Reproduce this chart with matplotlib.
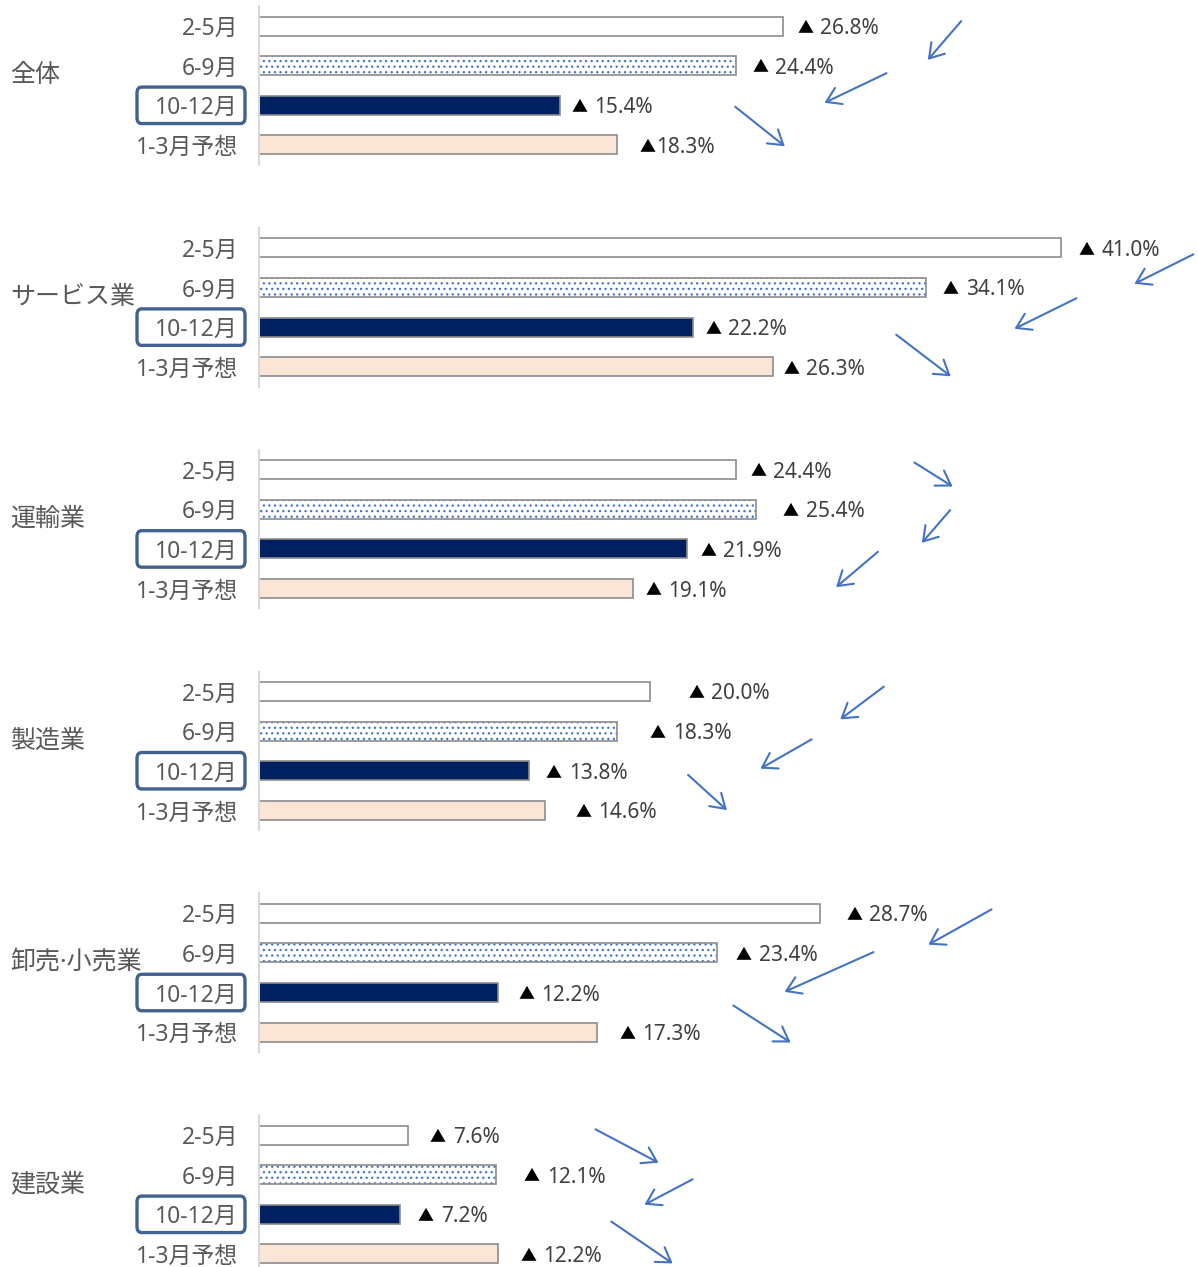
import numpy as np
import matplotlib.pyplot as plt
import matplotlib.patches as mpatches
import matplotlib.transforms as mtransforms

plt.rcParams['font.family'] = ['Noto Sans', 'Noto Sans CJK JP', 'DejaVu Sans']
plt.rcParams['hatch.linewidth'] = 0.9

# data: decline (▲) in %, per industry
industries = ['全体', 'サービス業', '運輸業', '製造業', '卸売·小売業', '建設業']
periods = ['2-5月', '6-9月', '10-12月', '1-3月予想']
feb_may = [26.8, 41.0, 24.4, 20.0, 28.7, 7.6]
jun_sep = [24.4, 34.1, 25.4, 18.3, 23.4, 12.1]
oct_dec = [15.4, 22.2, 21.9, 13.8, 12.2, 7.2]
jan_mar_fc = [18.3, 26.3, 19.1, 14.6, 17.3, 12.2]

# label gap after bar end (px), as placed in the original
label_gap = [[14, 16, 11, 23], [18, 17, 12, 10], [14, 27, 13, 13],
             [38, 33, 17, 31], [26, 19, 21, 22], [22, 28, 18, 23]]

W, H = 1198, 1267
fig = plt.figure(figsize=(W / 100, H / 100), dpi=100)

x0, pitch, ax_h = 259, 221.8, 158.6
gray_txt = '#595959'
colors = ['white', 'white', '#002060', '#FBE5D6']

for g, name in enumerate(industries):
    top = 6.2 + pitch * g
    ax = fig.add_axes([x0 / W, 1 - (top + ax_h) / H, (W - x0) / W, ax_h / H])
    vals = [feb_may[g], jun_sep[g], oct_dec[g], jan_mar_fc[g]]
    y = np.arange(4)
    for i, v in enumerate(vals):
        if i == 1:
            ax.barh(y[i], v, height=0.48, color='white', edgecolor='#4472C4',
                    linewidth=0, hatch='...')
            ax.barh(y[i], v, height=0.48, color='none', edgecolor='#8C8C8C', linewidth=1.2)
        else:
            ax.barh(y[i], v, height=0.48, color=colors[i], edgecolor='#8C8C8C', linewidth=1.2)
        gap = label_gap[g][i]
        num_off = 16 if (g == 0 and i == 3) else 23
        ax.annotate('▲', (v, y[i]), xytext=(gap, -7),
                    textcoords='offset pixels', ha='left', va='baseline',
                    fontsize=11.5, color='black', family='Noto Sans CJK JP')
        ax.annotate(f'{v:.1f}%', (v, y[i]), xytext=(gap + num_off, -8),
                    textcoords='offset pixels', ha='left', va='baseline',
                    fontsize=15, color='#404040')
    ax.set_xlim(0, (W - x0) / 19.56)
    ax.set_ylim(3.5, -0.5)
    ax.set_yticks(y)
    ax.set_yticklabels(periods, fontsize=16.5, color=gray_txt)
    ax.tick_params(axis='y', length=0, pad=15)
    ax.set_xticks([])
    for s in ['top', 'right', 'bottom']:
        ax.spines[s].set_visible(False)
    ax.spines['left'].set_color('#D9D9D9')
    ax.spines['left'].set_linewidth(1.5)
    ax.patch.set_alpha(0)

    # highlight box round 10-12月
    tr = ax.get_yaxis_transform() + mtransforms.ScaledTranslation(-122 / 100, 0, fig.dpi_scale_trans)
    box = mpatches.FancyBboxPatch((0, 2 - 0.46), 108 / (W - x0), 0.92,
                                  boxstyle='round,pad=0,rounding_size=0.005',
                                  mutation_aspect=30,
                                  transform=tr, fill=False, edgecolor='#41618F',
                                  linewidth=2.4, clip_on=False)
    ax.add_patch(box)

    fig.text(10 / W, 1 - (top + ax_h / 2 - 10) / H, name, fontsize=18,
             color=gray_txt, ha='left', va='center')

# arrows (start -> head), in image pixels from top-left
arrows = [((963, 19), (926, 62)), ((889, 72), (822, 104)), ((733, 105), (787, 148)),
          ((1196, 253), (1132, 285)), ((1079, 297), (1012, 330)), ((894, 333), (953, 378)),
          ((912, 461), (955, 488)), ((952, 508), (920, 545)), ((880, 550), (834, 589)),
          ((886, 685), (838, 721)), ((814, 738), (758, 770)), ((686, 773), (729, 812)),
          ((994, 908), (926, 946)), ((876, 951), (782, 993)), ((731, 1004), (793, 1044)),
          ((593, 1128), (661, 1164)), ((695, 1178), (642, 1206)), ((609, 1220), (675, 1265))]
for (xa, ya), (xb, yb) in arrows:
    arr = mpatches.FancyArrowPatch((xa, H - ya), (xb, H - yb),
                                   arrowstyle='->,head_length=0.5,head_width=0.32',
                                   mutation_scale=20, color='#4472C4', linewidth=1.5,
                                   transform=mtransforms.IdentityTransform())
    fig.add_artist(arr)

fig.savefig('out.png', dpi=100)
